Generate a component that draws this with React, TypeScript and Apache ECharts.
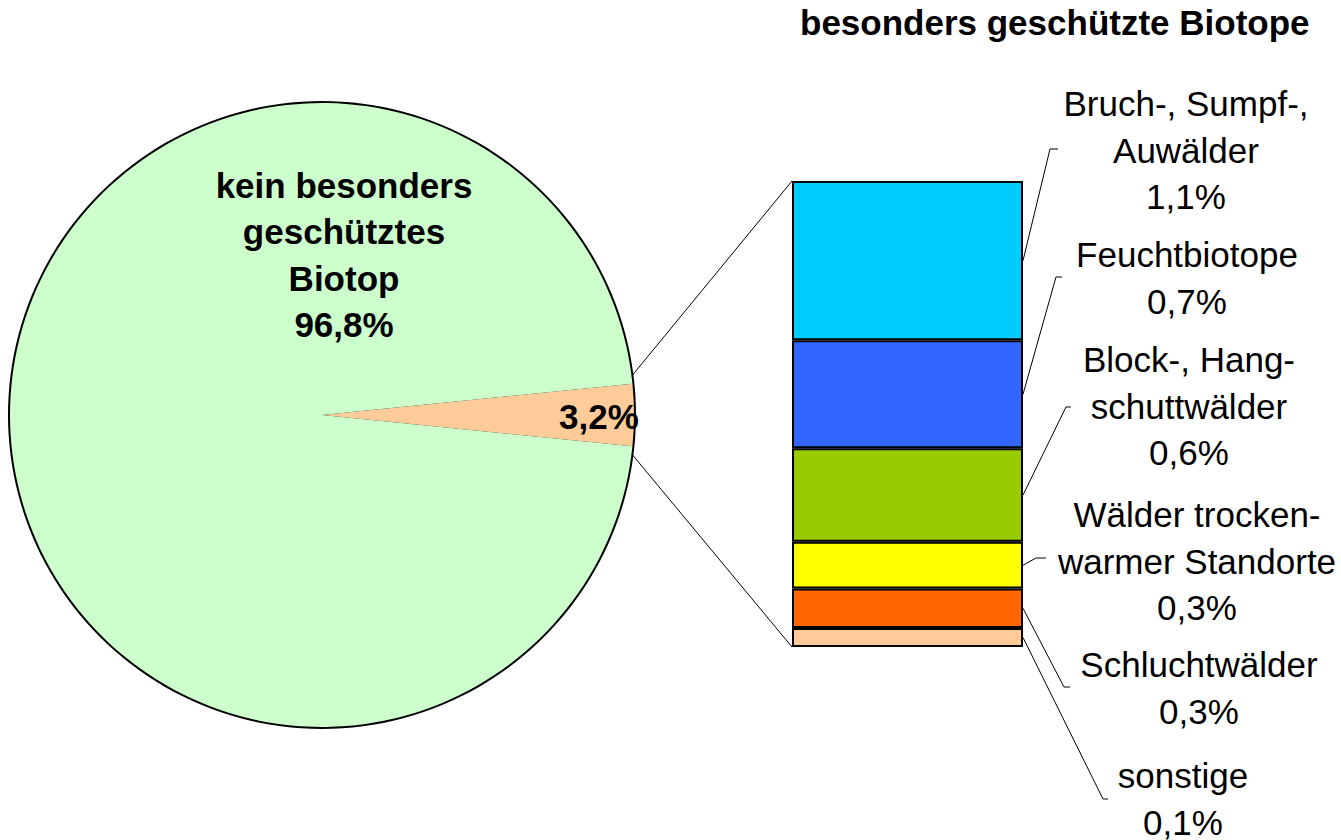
import React, { useEffect, useRef } from 'react';
import * as echarts from 'echarts';

// ---- data ----
const categories = [
  'Bruch-, Sumpf-,\nAuwälder',
  'Feuchtbiotope',
  'Block-, Hang-\nschuttwälder',
  'Wälder trocken-\nwarmer Standorte',
  'Schluchtwälder',
  'sonstige',
];
const shares = [1.09, 0.74, 0.64, 0.32, 0.27, 0.13];
const groupName = 'besonders geschützte Biotope';
const otherName = 'kein besonders\ngeschütztes\nBiotop';
const otherShare = 96.81;

// ---- styles ----
const barColors = ['#00CCFF', '#3366FF', '#99CC00', '#FFFF00', '#FF6600', '#FFCC99'];
const pieColors = ['#FFCC99', '#CCFFCC'];
const FONT = 'Arial, "Liberation Sans", Helvetica, sans-serif';
const FONT_SIZE = 35;

// ---- layout ----
const PIE_CENTER = [322, 415];
const PIE_RADIUS = 312;
const pieLabelPos = [
  [599, 416],
  [344, 255],
];
const labelPos = [
  [1186, 150],
  [1187, 278],
  [1189, 406],
  [1197, 561],
  [1199, 688],
  [1183, 799],
];
const leaderCorner = [
  [1050, 149],
  [1056, 277],
  [1066, 407],
  [1036, 558],
  [1064, 687],
  [1103, 799],
];
const leaderEndX = [1058, 1062, 1071, 1046, 1070, 1108];
const CONNECTOR_EXTRA_DEG = 1.4;

const fmt = (v: number) => v.toFixed(1).replace('.', ',') + '%';

export default function App() {
  const ref = useRef<HTMLDivElement>(null);

  useEffect(() => {
    if (!ref.current) return;
    const chart = echarts.init(ref.current, undefined, { renderer: 'svg' });

    const total = shares.reduce((a, b) => a + b, 0);
    const halfDeg = (total / (total + otherShare)) * 180;

    // cumulative ranges, top segment first
    const ranges: number[][] = [];
    let top = total;
    shares.forEach((v) => {
      ranges.push([0, top - v, top]);
      top -= v;
    });

    const barSeries: any[] = [];
    for (let i = shares.length - 1; i >= 0; i--) {
      barSeries.push({
        type: 'bar',
        name: categories[i],
        stack: 'sec',
        barWidth: '100%',
        data: [shares[i]],
        itemStyle: { color: barColors[i], borderColor: '#000', borderWidth: 2 },
        label: { show: false },
        silent: true,
        z: 2,
      });
    }

    const option: any = {
      animation: false,
      backgroundColor: '#fff',
      title: {
        text: groupName,
        left: 800,
        top: 5,
        padding: 0,
        textStyle: { fontSize: FONT_SIZE, fontWeight: 'bold', fontFamily: FONT, color: '#000' },
      },
      grid: { left: 792, top: 181, width: 231, height: 466 },
      xAxis: { type: 'category', data: [''], show: false },
      yAxis: { type: 'value', min: 0, max: total, show: false },
      series: [
        {
          type: 'pie',
          name: 'outline',
          center: PIE_CENTER,
          radius: PIE_RADIUS + 2,
          silent: true,
          z: 1,
          label: { show: false },
          labelLine: { show: false },
          itemStyle: { color: '#000', borderWidth: 0 },
          data: [{ name: 'outline', value: 1 }],
        },
        {
          type: 'pie',
          name: 'Biotope',
          center: PIE_CENTER,
          radius: PIE_RADIUS,
          startAngle: halfDeg,
          clockwise: true,
          z: 2,
          silent: true,
          itemStyle: { borderWidth: 0 },
          labelLine: { show: false },
          label: {
            show: true,
            position: 'inside',
            fontSize: FONT_SIZE,
            fontWeight: 'bold',
            fontFamily: FONT,
            color: '#000',
            lineHeight: 46.5,
            align: 'center',
            formatter: (p: any) => (p.dataIndex === 0 ? fmt(p.value) : p.name + '\n' + fmt(p.value)),
          },
          labelLayout: (p: any) => ({
            x: pieLabelPos[p.dataIndex][0],
            y: pieLabelPos[p.dataIndex][1],
            align: 'center',
            verticalAlign: 'middle',
          }),
          data: [
            { name: groupName, value: total, itemStyle: { color: pieColors[0] } },
            { name: otherName, value: otherShare, itemStyle: { color: pieColors[1] } },
          ],
        },
        ...barSeries,
        {
          type: 'custom',
          name: 'labels',
          coordinateSystem: 'cartesian2d',
          clip: false,
          silent: true,
          z: 5,
          data: ranges,
          renderItem: (params: any, api: any) => {
            const i = params.dataIndex;
            const mid = api.coord([0, (api.value(1) + api.value(2)) / 2]);
            const half = api.size([1, 0])[0] / 2;
            const x0 = mid[0] + half;
            const y0 = mid[1];
            return {
              type: 'group',
              children: [
                {
                  type: 'polyline',
                  shape: {
                    points: [
                      [x0, y0],
                      leaderCorner[i],
                      [leaderEndX[i], leaderCorner[i][1]],
                    ],
                  },
                  style: { stroke: '#000', lineWidth: 1, fill: 'none' },
                },
                {
                  type: 'text',
                  style: {
                    text: categories[i] + '\n' + fmt(shares[i]),
                    x: labelPos[i][0],
                    y: labelPos[i][1],
                    align: 'center',
                    verticalAlign: 'middle',
                    textAlign: 'center',
                    textVerticalAlign: 'middle',
                    fontSize: FONT_SIZE,
                    fontFamily: FONT,
                    lineHeight: 46.5,
                    fill: '#000',
                  },
                },
              ],
            };
          },
        },
        {
          type: 'custom',
          name: 'connectors',
          coordinateSystem: 'cartesian2d',
          clip: false,
          silent: true,
          z: 5,
          data: [[0, total]],
          renderItem: (params: any, api: any) => {
            const t = api.coord([0, api.value(1)]);
            const b = api.coord([0, 0]);
            const half = api.size([1, 0])[0] / 2;
            const xl = t[0] - half;
            const a = ((halfDeg + CONNECTOR_EXTRA_DEG) * Math.PI) / 180;
            const px = PIE_CENTER[0] + PIE_RADIUS * Math.cos(a);
            const dy = PIE_RADIUS * Math.sin(a);
            return {
              type: 'group',
              children: [
                {
                  type: 'line',
                  shape: { x1: px, y1: PIE_CENTER[1] - dy, x2: xl, y2: t[1] },
                  style: { stroke: '#000', lineWidth: 1 },
                },
                {
                  type: 'line',
                  shape: { x1: px, y1: PIE_CENTER[1] + dy, x2: xl, y2: b[1] },
                  style: { stroke: '#000', lineWidth: 1 },
                },
              ],
            };
          },
        },
      ],
    };

    chart.setOption(option);
    return () => chart.dispose();
  }, []);

  return (
    <div
      ref={ref}
      style={{ position: 'fixed', left: 0, top: 0, width: 1341, height: 840, background: '#fff' }}
    />
  );
}
